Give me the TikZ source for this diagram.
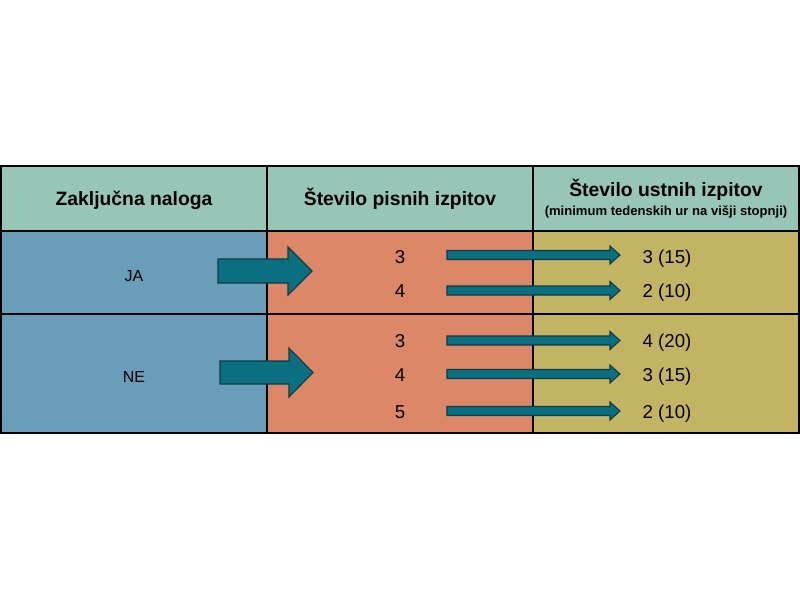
\documentclass[tikz,border=0pt]{standalone}
\usepackage{fontspec}
\setmainfont{Liberation Sans}
\definecolor{glava}{HTML}{97C5B7}
\definecolor{modra}{HTML}{6A9DB8}
\definecolor{lososova}{HTML}{DC8767}
\definecolor{olivna}{HTML}{C2B463}
\definecolor{puscica}{HTML}{0A6F80}
\definecolor{robpuscice}{HTML}{0E3B45}
\tikzset{
	celica/.style={draw=black, line width=0.9pt},
	blok/.style={fill=puscica, draw=robpuscice, line width=0.8pt, line join=miter},
	naslov/.style={font=\fontsize{14.5}{17}\selectfont\bfseries, anchor=base},
	podnaslov/.style={font=\fontsize{9.8}{11}\selectfont\bfseries, anchor=base},
	stevilka/.style={font=\fontsize{14}{16}\selectfont, anchor=base},
	oznaka/.style={font=\fontsize{12}{14}\selectfont, anchor=base}
}
% #1 zacetek, #2 konica, #3 sredina, #4 pol debeline, #5 pol glave, #6 dolzina glave
\newcommand{\blokpuscica}[6]{%
	\draw[blok] (#1,#3-#4) -- (#2-#6,#3-#4) -- (#2-#6,#3-#5) -- (#2,#3)
		-- (#2-#6,#3+#5) -- (#2-#6,#3+#4) -- (#1,#3+#4) -- cycle;%
}
\begin{document}
\begin{tikzpicture}[x=0.75pt, y=-0.75pt]
				\useasboundingbox (0,0) rectangle (800,600);
				
				\draw[celica, fill=glava] (1,166) rectangle (267,231);
				\draw[celica, fill=glava] (267,166) rectangle (533,231);
				\draw[celica, fill=glava] (533,166) rectangle (799,231);
				
				\draw[celica, fill=modra] (1,231) rectangle (267,314);
				\draw[celica, fill=lososova] (267,231) rectangle (533,314);
				\draw[celica, fill=olivna] (533,231) rectangle (799,314);
				
				\draw[celica, fill=modra] (1,314) rectangle (267,433);
				\draw[celica, fill=lososova] (267,314) rectangle (533,433);
				\draw[celica, fill=olivna] (533,314) rectangle (799,433);
				
				\blokpuscica{218}{312}{271}{12}{24}{24}
				\blokpuscica{220}{313}{372.5}{11.5}{24.5}{24}
				
				\foreach \y in {255, 290.5, 340.5, 374, 411}{
					\blokpuscica{447}{620}{\y}{4.5}{9}{10}
				}
				
				\node[naslov] (zakljucna) at (134,205) {Zaključna naloga};
				\node[naslov] (pisni) at (400,205) {Število pisnih izpitov};
				\node[naslov] (ustni) at (666,196) {Število ustnih izpitov};
				\node[podnaslov] (minimum) at (666,215) {(minimum tedenskih ur na višji stopnji)};
				
				\node[oznaka] (ja) at (134,281) {JA};
				\node[oznaka] (ne) at (134,382) {NE};
				
				\node[stevilka] (pja3) at (400,263) {3};
				\node[stevilka] (pja4) at (400,297.5) {4};
				\node[stevilka] (pne3) at (400,347.5) {3};
				\node[stevilka] (pne4) at (400,381) {4};
				\node[stevilka] (pne5) at (400,418) {5};
				
				\node[stevilka] (uja3) at (667,263) {3 (15)};
				\node[stevilka] (uja2) at (667,297.5) {2 (10)};
				\node[stevilka] (une4) at (667,347.5) {4 (20)};
				\node[stevilka] (une3) at (667,381) {3 (15)};
				\node[stevilka] (une2) at (667,418) {2 (10)};
			\end{tikzpicture}
\end{document}
